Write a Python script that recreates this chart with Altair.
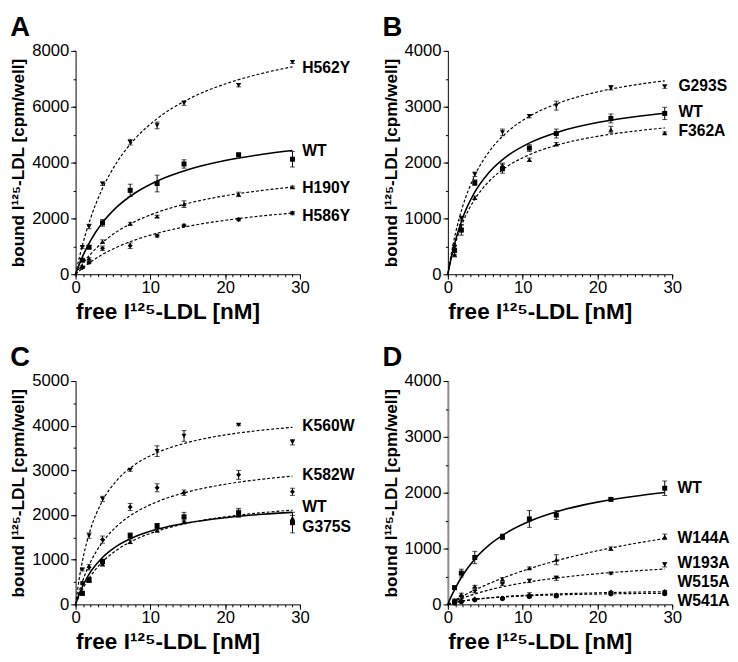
import altair as alt
import pandas as pd

FONT = "Liberation Sans"

# common x positions of measured points and of the drawn fit curves
X_PTS = [0.9, 1.8, 3.6, 7.3, 10.9, 14.5, 21.8, 29]
X_FIT = [0, 0.5, 1, 2, 3.5, 5.5, 8, 11, 15, 20, 25, 29]
X_MAJOR = [0, 10, 20, 30]
X_MINOR = list(range(0, 31))

# ---------------- Panel A ----------------
A_NAMES = ["H562Y", "WT", "H190Y", "H586Y"]
A_H562Y = [967, 1710, 3240, 4730, 5330, 6130, 6770, 7600]
A_H562Y_ERR = [40, 80, 60, 100, 120, 80, 60, 50]
A_H562Y_FIT = [0, 597, 1123, 2003, 3018, 4000, 4866, 5593, 6258, 6815, 7199, 7430]
A_WT = [500, 970, 1840, 3005, 3250, 3950, 4280, 4120]
A_WT_ERR = [40, 60, 120, 220, 300, 150, 50, 280]
A_WT_FIT = [0, 361, 678, 1207, 1816, 2402, 2918, 3350, 3743, 4072, 4299, 4435]
A_H190Y = [280, 560, 1170, 1810, 2070, 2510, 2860, 3120]
A_H190Y_ERR = [20, 30, 60, 50, 40, 120, 80, 40]
A_H190Y_FIT = [0, 207, 394, 720, 1115, 1519, 1894, 2224, 2538, 2810, 3004, 3123]
A_H586Y = [230, 420, 930, 1020, 1380, 1750, 1960, 2190]
A_H586Y_ERR = [20, 40, 80, 100, 50, 40, 50, 60]
A_H586Y_FIT = [0, 122, 236, 438, 694, 967, 1232, 1475, 1716, 1932, 2091, 2190]
A_LABEL_Y = [7395, 4426, 3098, 2086]

# ---------------- Panel B ----------------
B_NAMES = ["G293S", "WT", "F362A"]
B_G293S = [480, 1000, 1790, 2540, 2830, 3020, 3340, 3360]
B_G293S_ERR = [40, 40, 40, 60, 30, 80, 40, 30]
B_G293S_FIT = [0, 396, 721, 1222, 1741, 2192, 2554, 2834, 3074, 3265, 3391, 3464]
B_WT = [430, 790, 1640, 1890, 2260, 2520, 2790, 2880]
B_WT_ERR = [80, 90, 50, 80, 60, 80, 80, 110]
B_WT_FIT = [0, 329, 598, 1015, 1446, 1821, 2123, 2357, 2557, 2716, 2821, 2883]
B_F362A = [350, 830, 1370, 1950, 2050, 2330, 2590, 2530]
B_F362A_ERR = [40, 60, 30, 40, 30, 30, 60, 20]
B_F362A_FIT = [0, 302, 549, 930, 1323, 1663, 1936, 2147, 2327, 2470, 2564, 2620]
B_LABEL_Y = [3377, 2906, 2555]

# ---------------- Panel C ----------------
C_NAMES = ["K560W", "K582W", "WT", "G375S"]
C_K560W = [780, 1540, 2360, 3010, 3430, 3770, 4020, 3630]
C_K560W_ERR = [30, 60, 60, 30, 120, 120, 20, 60]
C_K560W_FIT = [0, 589, 1039, 1682, 2289, 2773, 3137, 3404, 3624, 3793, 3901, 3964]
C_K582W = [480, 830, 1450, 2180, 2610, 2500, 2900, 2520]
C_K582W_ERR = [30, 60, 80, 80, 90, 60, 100, 80]
C_K582W_FIT = [0, 300, 551, 948, 1370, 1748, 2059, 2304, 2518, 2689, 2804, 2871]
C_WT = [250, 540, 960, 1540, 1760, 1960, 2050, 1830]
C_WT_ERR = [30, 50, 50, 60, 50, 100, 100, 230]
C_WT_FIT = [0, 235, 428, 726, 1034, 1303, 1518, 1685, 1828, 1941, 2016, 2060]
C_G375S = [240, 560, 900, 1400, 1660, 1850, 2050, 1930]
C_G375S_ERR = [20, 40, 40, 40, 40, 40, 60, 60]
C_G375S_FIT = [0, 195, 363, 635, 936, 1216, 1453, 1646, 1818, 1959, 2054, 2110]
C_LABEL_Y = [3994, 2900, 2171, 1734]

# ---------------- Panel D ----------------
D_NAMES = ["WT", "W144A", "W193A", "W515A", "W541A"]
D_WT = [300, 560, 840, 1210, 1530, 1600, 1880, 2080]
D_WT_ERR = [20, 70, 110, 50, 150, 80, 20, 130]
D_WT_FIT = [0, 156, 293, 526, 796, 1060, 1295, 1494, 1677, 1831, 1938, 2003]
D_W144A = [80, 180, 320, 450, 650, 800, 1000, 1210]
D_W144A_ERR = [10, 20, 20, 30, 20, 90, 30, 50]
D_W144A_FIT = [0, 39, 77, 150, 251, 372, 505, 644, 800, 960, 1091, 1180]
D_W193A = [60, 120, 230, 360, 420, 470, 550, 710]
D_W193A_ERR = [10, 20, 20, 20, 30, 40, 10, 40]
D_W193A_FIT = [0, 31, 60, 113, 182, 258, 334, 406, 480, 549, 600, 633]
D_W515A = [30, 60, 95, 115, 170, 170, 220, 230]
D_W515A_ERR = [10, 10, 10, 10, 40, 20, 10, 20]
D_W515A_FIT = [0, 17, 32, 58, 88, 118, 145, 168, 189, 207, 220, 227]
D_W541A = [25, 45, 80, 100, 140, 150, 185, 190]
D_W541A_ERR = [10, 10, 10, 10, 20, 20, 10, 10]
D_W541A_FIT = [0, 18, 34, 60, 88, 115, 137, 155, 171, 185, 194, 199]
D_LABEL_Y = [2074, 1192, 734, 400, 59]

X_TITLE = "free I\u00b9\u00b2\u2075-LDL [nM]"
Y_TITLE = "bound I\u00b9\u00b2\u2075-LDL [cpm/well]"

W, H = 229, 228


def build_panel(letter, names, pts, errs, fits, shapes, dashed, label_y,
                ymax, minor, major, label_dx, ydomain_color="black", ydomain_w=1):
    prow, frow, lrow = [], [], []
    for i, n in enumerate(names):
        for xv, yv, ev in zip(X_PTS, pts[i], errs[i]):
            prow.append({"series": n, "x": xv, "y": yv, "lo": yv - ev, "hi": yv + ev,
                         "shape": shapes[i]})
        for xv, yv in zip(X_FIT, fits[i]):
            frow.append({"series": n, "x": xv, "y": yv, "dashed": dashed[i]})
        lrow.append({"series": n, "x": 29, "y": label_y[i]})
    pdf, fdf, ldf = pd.DataFrame(prow), pd.DataFrame(frow), pd.DataFrame(lrow)

    xscale = alt.Scale(domain=[0, 30], nice=False)
    yscale = alt.Scale(domain=[0, ymax], nice=False)
    xaxis = alt.Axis(
        values=X_MAJOR, tickSize=5, orient="bottom",
        title=X_TITLE, labelOverlap=False, labelFlush=False,
        grid=False, domainColor="black", tickColor="black", labelPadding=1,
        titlePadding=5, titleAnchor="start",
    )
    yaxis = alt.Axis(
        values=list(range(0, ymax + 1, major)), tickSize=5, orient="left",
        title=Y_TITLE, labelOverlap=False, labelFlush=False, format="d",
        grid=False, domainColor=ydomain_color, domainWidth=ydomain_w,
        tickColor="black", labelPadding=2, titlePadding=4,
    )
    xminor = alt.Axis(values=X_MINOR, tickSize=2.5, orient="bottom", labels=False,
                      title=None, domain=False, grid=False, tickColor="black")
    yminor = alt.Axis(values=list(range(0, ymax + 1, minor)), tickSize=2.5, orient="left",
                      labels=False, title=None, domain=False, grid=False, tickColor="black")

    X = alt.X("x:Q", scale=xscale, axis=xaxis)
    Y = alt.Y("y:Q", scale=yscale, axis=yaxis)
    Xn = alt.X("x:Q", scale=xscale, axis=None)
    Yn = alt.Y("y:Q", scale=yscale, axis=None)

    base_f = alt.Chart(fdf)
    ticks_minor = base_f.mark_line(opacity=0).encode(
        x=alt.X("x:Q", scale=xscale, axis=xminor),
        y=alt.Y("y:Q", scale=yscale, axis=yminor), detail="series:N")
    solid = base_f.transform_filter("datum.dashed == 0").mark_line(
        color="black", strokeWidth=1.6, interpolate="monotone"
    ).encode(x=X, y=Y, detail="series:N")
    dash = base_f.transform_filter("datum.dashed == 1").mark_line(
        color="black", strokeWidth=1.2, strokeDash=[3, 2], interpolate="monotone"
    ).encode(x=Xn, y=Yn, detail="series:N")

    base_p = alt.Chart(pdf)
    bars = base_p.mark_rule(color="black", strokeWidth=1).encode(
        x=Xn, y=alt.Y("lo:Q", scale=yscale, axis=None), y2="hi:Q")
    caps = base_p.transform_fold(["lo", "hi"], as_=["k", "v"]).mark_tick(
        color="black", orient="horizontal", size=5, thickness=1
    ).encode(x=Xn, y=alt.Y("v:Q", scale=yscale, axis=None))
    points = base_p.mark_point(filled=True, size=26, opacity=1, color="black").encode(
        x=Xn, y=Yn, shape=alt.Shape("shape:N", scale=None))
    labels = alt.Chart(ldf).mark_text(
        align="left", baseline="middle", dx=label_dx, font=FONT, fontSize=16,
        fontWeight="bold", color="black"
    ).encode(x=Xn, y=Yn, text="series:N")

    return alt.layer(solid, ticks_minor, dash, bars, caps, points, labels).resolve_axis(
        x="independent", y="independent"
    ).properties(
        width=W, height=H,
        title=alt.TitleParams(letter, anchor="start", frame="bounds", fontSize=28,
                              font=FONT, fontWeight="bold", color="black", offset=0),
    )


pA = build_panel(
    "A", A_NAMES,
    [A_H562Y, A_WT, A_H190Y, A_H586Y],
    [A_H562Y_ERR, A_WT_ERR, A_H190Y_ERR, A_H586Y_ERR],
    [A_H562Y_FIT, A_WT_FIT, A_H190Y_FIT, A_H586Y_FIT],
    ["triangle-down", "square", "triangle-up", "diamond"],
    [1, 0, 1, 1], A_LABEL_Y, 8000, 1000, 2000, 10)

pB = build_panel(
    "B", B_NAMES,
    [B_G293S, B_WT, B_F362A],
    [B_G293S_ERR, B_WT_ERR, B_F362A_ERR],
    [B_G293S_FIT, B_WT_FIT, B_F362A_FIT],
    ["triangle-down", "square", "triangle-up"],
    [1, 0, 1], B_LABEL_Y, 4000, 500, 1000, 14)

pC = build_panel(
    "C", C_NAMES,
    [C_K560W, C_K582W, C_WT, C_G375S],
    [C_K560W_ERR, C_K582W_ERR, C_WT_ERR, C_G375S_ERR],
    [C_K560W_FIT, C_K582W_FIT, C_WT_FIT, C_G375S_FIT],
    ["triangle-down", "diamond", "square", "triangle-up"],
    [1, 1, 0, 1], C_LABEL_Y, 5000, 500, 1000, 10)

pD = build_panel(
    "D", D_NAMES,
    [D_WT, D_W144A, D_W193A, D_W515A, D_W541A],
    [D_WT_ERR, D_W144A_ERR, D_W193A_ERR, D_W515A_ERR, D_W541A_ERR],
    [D_WT_FIT, D_W144A_FIT, D_W193A_FIT, D_W515A_FIT, D_W541A_FIT],
    ["square", "triangle-up", "triangle-down", "diamond", "circle"],
    [0, 1, 1, 1, 1], D_LABEL_Y, 4000, 500, 1000, 13,
    ydomain_color="#8a8a8a", ydomain_w=2)

chart = alt.concat(pA, pB, pC, pD, columns=2, spacing={"row": 22, "column": 28}).properties(
    padding={"left": 2, "top": 0, "right": 0, "bottom": 0}
).configure_view(
    stroke=None
).configure_axis(
    labelFont=FONT, labelFontSize=17, labelColor="black",
    titleFont=FONT, titleFontSize=17.5, titleFontWeight="bold", titleColor="black",
).configure_axisX(titleFontSize=23)

chart.save("out.html", embed_options={"renderer": "svg", "actions": False})
